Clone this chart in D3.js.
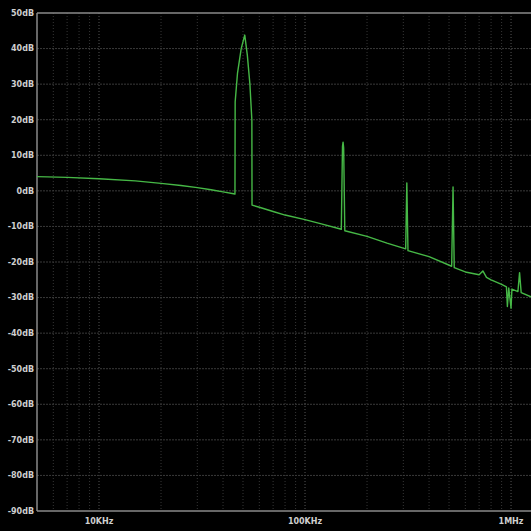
<!DOCTYPE html>
<html>
<head>
<meta charset="utf-8">
<script src="https://cdn.jsdelivr.net/npm/d3@7"></script>
<style>
  html, body { margin: 0; padding: 0; background: #000; }
  svg { display: block; }
  text { font-family: "DejaVu Sans", sans-serif; }
</style>
</head>
<body>
<svg id="chart" width="531" height="531"></svg>
<script>
'use strict';

// spectrum trace (Hz, dB)
var freqs = [5000, 7000, 10000, 15000, 20000, 25000, 30000, 35000, 40000, 45000, 45700,
  45800, 47000, 49000, 51000, 52500, 54000, 55200, 55300,
  60000, 70000, 80000, 100000, 120000, 150000,
  152000, 153000, 154000, 156000, 200000, 250000, 308000,
  312000, 316000, 400000, 515000,
  523000, 530000, 600000, 700000, 730000, 760000, 800000, 900000,
  950000, 960000, 975000, 1000000, 1010000, 1080000, 1100000, 1120000, 1250000];
var mags = [4.0, 3.8, 3.4, 2.8, 2.1, 1.5, 0.9, 0.3, -0.3, -0.8, -0.9,
  25, 33, 40, 43.8, 38, 30, 20, -4.0,
  -4.6, -5.8, -6.8, -8.1, -9.3, -10.8,
  12.5, 13.7, 12.0, -11.2, -12.8, -14.7, -16.3,
  2.2, -16.8, -18.5, -21.2,
  1.1, -21.6, -22.8, -23.6, -22.5, -24.3, -25, -26.3,
  -27, -32.5, -27.3, -33, -27.6, -28.3, -23, -28.6, -29.8];

var yTicks = [50, 40, 30, 20, 10, 0, -10, -20, -30, -40, -50, -60, -70, -80, -90];
var xTicks = [10000, 100000, 1000000];
var xTickLabels = ["10KHz", "100KHz", "1MHz"];

var svg = d3.select("#chart");
var padL = 37, padT = 13, padB = 511, padR = 531;

var x = d3.scaleLog().domain([5000, 1250000]).range([padL, padR]);
var y = d3.scaleLinear().domain([-90, 50]).range([padB, padT]);

// vertical log grid
var minor = [];
[1000, 10000, 100000, 1000000].forEach(function(dec) {
  for (var m = 1; m < 10; m++) {
    var f = dec * m;
    if (f > 5000 && f < 1250000) minor.push(f);
  }
});

svg.append("g").selectAll("line")
  .data(minor)
  .enter().append("line")
  .attr("x1", function(d) { return x(d); })
  .attr("x2", function(d) { return x(d); })
  .attr("y1", padT)
  .attr("y2", padB)
  .attr("stroke", function(d) { return xTicks.indexOf(d) >= 0 ? "#555" : "#363636"; })
  .attr("stroke-width", 1)
  .attr("stroke-dasharray", "1,2");

// horizontal grid
svg.append("g").selectAll("line")
  .data(yTicks)
  .enter().append("line")
  .attr("x1", padL)
  .attr("x2", padR)
  .attr("y1", function(d) { return y(d); })
  .attr("y2", function(d) { return y(d); })
  .attr("stroke", function(d) { return (d == 50 || d == -90) ? "#8a8a8a" : "#3a3a3a"; })
  .attr("stroke-width", function(d) { return (d == 50 || d == -90) ? 1.5 : 1; })
  .attr("stroke-dasharray", function(d) { return (d == 50 || d == -90) ? null : "2,1"; });

// left frame
svg.append("line")
  .attr("x1", padL).attr("x2", padL)
  .attr("y1", padT).attr("y2", padB)
  .attr("stroke", "#8a8a8a")
  .attr("stroke-width", 1.5);

// y labels
svg.append("g").selectAll("text")
  .data(yTicks)
  .enter().append("text")
  .attr("x", padL - 3)
  .attr("y", function(d) { return y(d); })
  .attr("dy", "0.35em")
  .attr("text-anchor", "end")
  .attr("font-size", 8)
  .attr("font-weight", "bold")
  .attr("fill", "#cfcfcf")
  .text(function(d) { return d + "dB"; });

// x labels
svg.append("g").selectAll("text")
  .data(xTicks)
  .enter().append("text")
  .attr("x", function(d) { return x(d); })
  .attr("y", padB + 13)
  .attr("text-anchor", "middle")
  .attr("font-size", 8)
  .attr("font-weight", "bold")
  .attr("fill", "#cfcfcf")
  .text(function(d, i) { return xTickLabels[i]; });

// trace
var pts = freqs.map(function(f, i) { return [f, mags[i]]; });
var line = d3.line()
  .x(function(d) { return x(d[0]); })
  .y(function(d) { return y(d[1]); });

svg.append("path")
  .datum(pts)
  .attr("d", line)
  .attr("fill", "none")
  .attr("stroke", "#46b846")
  .attr("stroke-width", 1.4)
  .attr("stroke-linejoin", "round");
</script>
</body>
</html>
